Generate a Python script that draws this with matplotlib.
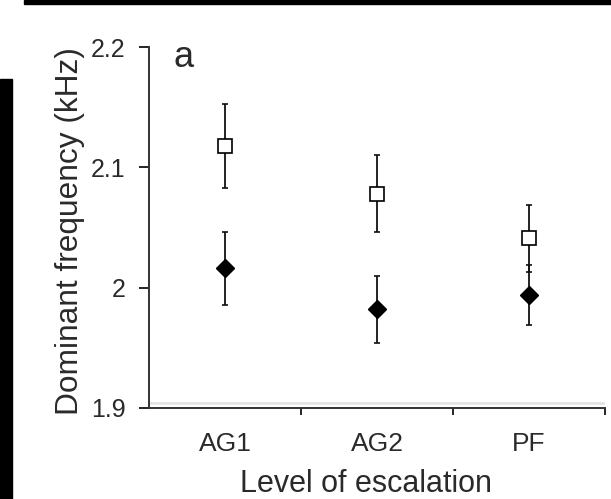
import matplotlib
matplotlib.use("Agg")
import matplotlib.pyplot as plt
from matplotlib.patches import Rectangle

# Dominant frequency by level of escalation, two call types
niveis = ["AG1", "AG2", "PF"]
quadrado_media = [2.118, 2.078, 2.041]
quadrado_erro = [0.035, 0.032, 0.028]
losango_media = [2.016, 1.982, 1.994]
losango_erro = [0.030, 0.028, 0.025]
y_ticks = [1.9, 2.0, 2.1, 2.2]
y_rotulos = ["1.9", "2", "2.1", "2.2"]

plt.rcParams["font.family"] = ["Liberation Sans", "DejaVu Sans"]
cor_texto = "#2a2a2a"

fig = plt.figure(figsize=(6.11, 4.99), dpi=100)
ax = fig.add_axes([0.2439, 0.1824, 0.7463, 0.7234])

x = [i + 0.5 for i in range(len(niveis))]

ax.errorbar(x, quadrado_media, yerr=quadrado_erro, fmt="s", color="#111111",
            mfc="white", mec="black", ms=10.5, mew=1.2, elinewidth=1.3,
            capsize=2, capthick=1.2, zorder=3)
ax.errorbar(x, losango_media, yerr=losango_erro, fmt="D", color="#111111",
            mfc="black", mec="black", ms=9.5, elinewidth=1.3,
            capsize=2, capthick=1.2, zorder=4)

ax.set_xlim(0, 3)
ax.set_ylim(1.9, 2.2)
ax.set_xticks([1, 2, 3])
ax.set_xticklabels([])
ax.set_xticks(x, minor=True)
ax.set_xticklabels(niveis, minor=True, fontsize=19, color=cor_texto)
ax.tick_params(axis="x", which="minor", length=0, pad=17)
ax.tick_params(axis="x", which="major", direction="out", length=5, width=1.2)
ax.set_yticks(y_ticks)
ax.set_yticklabels(y_rotulos, fontsize=18, color=cor_texto)
ax.tick_params(axis="y", direction="out", length=7, width=1.2, pad=10)

# faint plot-area edge just above the x axis
ax.axhline(1.9045, color="#e4e4e4", lw=2, zorder=1)

for lado in ["top", "right"]:
    ax.spines[lado].set_visible(False)
for lado in ["left", "bottom"]:
    ax.spines[lado].set_linewidth(1.4)
    ax.spines[lado].set_color("#333333")

ax.set_xlabel("Level of escalation", fontsize=22, color=cor_texto, labelpad=4)
ax.xaxis.set_label_coords(0.475, -0.17)
ax.set_ylabel("Dominant frequency (kHz)", fontsize=22.8, color=cor_texto)
ax.yaxis.set_label_coords(-0.141, 0.49)
ax.text(0.23, 2.1834, "a", fontsize=26, color=cor_texto, ha="center", va="baseline")

# black page borders
fig.patches.append(Rectangle((24 / 611, 1 - 4 / 499), 1, 4 / 499,
                             transform=fig.transFigure, color="black", zorder=0))
fig.patches.append(Rectangle((0, 0), 12 / 611, 1 - 79 / 499,
                             transform=fig.transFigure, color="black", zorder=0))

fig.savefig("out.png", dpi=100)
